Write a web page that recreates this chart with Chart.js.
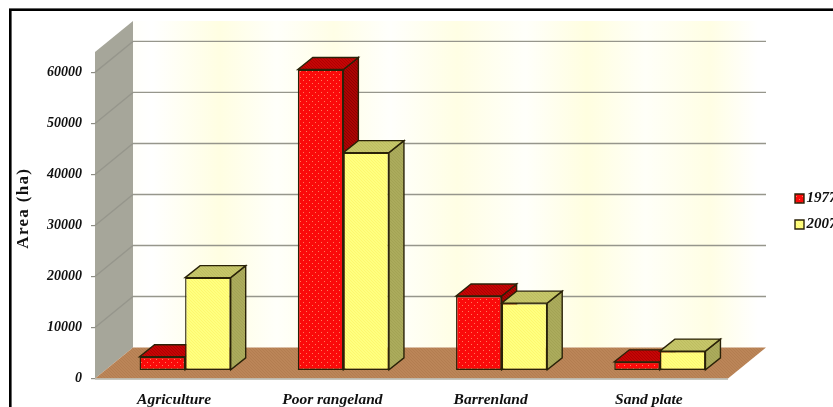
<!DOCTYPE html>
<html>
<head>
<meta charset="utf-8">
<script src="https://cdn.jsdelivr.net/npm/chart.js@4"></script>
<style>
  html, body { margin: 0; padding: 0; background: #fff; overflow: hidden; width: 833px; height: 407px; }
  canvas { display: block; }
</style>
</head>
<body>
<canvas id="c" width="860" height="430"></canvas>
<script>
// Land cover area per class, in hectares
const categories = ['Agriculture', 'Poor rangeland', 'Barrenland', 'Sand plate'];
const years = ['1977', '2007'];
const area1977 = [2700, 59000, 14600, 1700];
const area2007 = [18200, 42700, 13200, 3800];
const yTickValues = [0, 10000, 20000, 30000, 40000, 50000, 60000];
const yAxisTitle = 'Area (ha)';

const SERIF = '"Liberation Serif", "Times New Roman", serif';
const INK = '#2a2208';

// Depth of the box behind the front plane, and of each column
const WALL_DX = 38, WALL_DY = 31;
const BAR_SHIFT_X = 11, BAR_SHIFT_Y = 8;
const BAR_DX = 15, BAR_DY = 12;

function tile(size, base, paint) {
  const t = document.createElement('canvas');
  t.width = t.height = size;
  const g = t.getContext('2d');
  g.fillStyle = base;
  g.fillRect(0, 0, size, size);
  paint(g);
  return g.createPattern(t, 'repeat');
}
const dots = (color) => (g) => {
  g.fillStyle = color;
  g.fillRect(1, 1, 1, 1);
  g.fillRect(4, 4, 1, 1);
};
const hatch = (color) => (g) => {
  g.fillStyle = color;
  g.fillRect(0, 0, 1, 1);
  g.fillRect(1, 1, 1, 1);
  g.fillRect(2, 2, 1, 1);
};
const redFront = tile(6, '#fb0a0a', dots('#ff7a5a'));
const redTop = tile(3, '#c40606', hatch('#b00000'));
const redSide = tile(3, '#ac0404', hatch('#8e0000'));
const yellowFront = tile(3, '#ffff80', hatch('#fdf76e'));
const yellowTop = tile(3, '#c6c66a', hatch('#bdbd60'));
const yellowSide = tile(3, '#abab5c', hatch('#a3a354'));
const floorFill = tile(3, '#bb8558', hatch('#b37d50'));

function polygon(ctx, pts, fill, stroke, width) {
  ctx.beginPath();
  pts.forEach((p, i) => (i ? ctx.lineTo(p[0], p[1]) : ctx.moveTo(p[0], p[1])));
  ctx.closePath();
  ctx.fillStyle = fill;
  ctx.fill();
  if (stroke) {
    ctx.strokeStyle = stroke;
    ctx.lineWidth = width;
    ctx.stroke();
  }
}

// Frame, walls, floor, gridlines carried round the box, and the depth faces of the columns
const boxPlugin = {
  id: 'box',
  beforeDraw(chart) {
    const { ctx, chartArea: a, scales: { y } } = chart;
    const bx = a.left + WALL_DX, bxr = a.right + WALL_DX, by = a.top - WALL_DY, bb = a.bottom - WALL_DY;
    ctx.save();
    ctx.strokeStyle = '#000';
    ctx.lineWidth = 2.6;
    ctx.strokeRect(10.3, 9.7, chart.width, chart.height);

    // Soft vertical bands on the back wall
    const wash = ctx.createLinearGradient(bx, 0, bxr, 0);
    [[0, '#fffffa'], [0.03, '#ffffff'], [0.137, '#fffee2'], [0.227, '#fffffa'], [0.317, '#fffee6'],
     [0.407, '#fffffc'], [0.512, '#fffee4'], [0.62, '#fffffa'], [0.717, '#fffee0'], [0.81, '#fffff8'],
     [0.911, '#fffee4'], [0.987, '#ffffff'], [1, '#ffffff']]
      .forEach(([p, c]) => wash.addColorStop(p, c));
    ctx.fillStyle = wash;
    ctx.fillRect(bx, by, bxr - bx, bb - by);

    polygon(ctx, [[a.left, a.top], [bx, by], [bx, bb], [a.left, a.bottom]], '#a6a69a');
    polygon(ctx, [[a.left, a.bottom], [a.right, a.bottom], [bxr, bb], [bx, bb]], floorFill);

    y.ticks.forEach((t) => {
      if (t.value === 0) return;
      const py = y.getPixelForValue(t.value);
      ctx.beginPath();
      ctx.moveTo(a.left, py);
      ctx.lineTo(bx, py - WALL_DY);
      ctx.lineTo(bxr, py - WALL_DY);
      ctx.strokeStyle = '#96968c';
      ctx.lineWidth = 1.4;
      ctx.stroke();
    });
    ctx.beginPath();
    ctx.moveTo(a.left, a.bottom + 0.5);
    ctx.lineTo(a.right, a.bottom + 0.5);
    ctx.strokeStyle = '#b4b4aa';
    ctx.lineWidth = 1.4;
    ctx.stroke();

    // Axis title, set a little above the middle of the axis
    ctx.translate(24, (a.top + a.bottom) / 2 - 7);
    ctx.rotate(-Math.PI / 2);
    ctx.font = 'bold 17px ' + SERIF;
    ctx.letterSpacing = '1.3px';
    ctx.fillStyle = '#111';
    ctx.textAlign = 'center';
    ctx.textBaseline = 'middle';
    ctx.fillText(y.options.title.text, 0, 0);
    ctx.restore();
  },
  // Columns stand a little behind the front plane of the box. Their top and
  // side faces go down first, 1977 before 2007, and the library then paints
  // the front faces over them.
  beforeDatasetsDraw(chart) {
    const { ctx } = chart;
    ctx.save();
    ctx.translate(BAR_SHIFT_X, -BAR_SHIFT_Y);
    [[0, redTop, redSide], [1, yellowTop, yellowSide]].forEach(([index, top, side]) => {
      chart.getDatasetMeta(index).data.forEach((bar) => {
        const { x, y, base, width } = bar.getProps(['x', 'y', 'base', 'width'], true);
        const l = x - width / 2, r = x + width / 2;
        polygon(ctx, [[r, y], [r + BAR_DX, y - BAR_DY], [r + BAR_DX, base - BAR_DY], [r, base]], side, INK, 1.4);
        polygon(ctx, [[l, y], [l + BAR_DX, y - BAR_DY], [r + BAR_DX, y - BAR_DY], [r, y]], top, INK, 1.4);
      });
    });
  },
  afterDatasetsDraw(chart) {
    chart.ctx.restore();
  }
};

// Legend sits beside the box; its labels are right-aligned to the box edge
// so they hug the colour swatches
const legendPlacement = {
  id: 'legendPlacement',
  afterLayout(chart) {
    const lg = chart.legend;
    lg.left = 784;
    lg.top = 180;
    lg.right = 836.5;
    lg.bottom = chart.height;
  }
};

new Chart(document.getElementById('c'), {
  type: 'bar',
  data: {
    labels: categories,
    datasets: [
      { label: years[0], data: area1977, backgroundColor: redFront, clip: false },
      { label: years[1], data: area2007, backgroundColor: yellowFront, clip: false }
    ]
  },
  plugins: [boxPlugin, legendPlacement],
  options: {
    responsive: false,
    animation: false,
    events: [],
    layout: { padding: { top: 52, right: 132, left: 0, bottom: 0 } },
    datasets: {
      bar: {
        categoryPercentage: 0.576,
        barPercentage: 1,
        borderColor: INK,
        borderWidth: 1.4,
        borderSkipped: false
      }
    },
    scales: {
      x: {
        grid: { display: false },
        border: { display: false },
        ticks: {
          padding: 4,
          color: '#111',
          maxRotation: 0,
          font: { family: SERIF, size: 15.5, weight: 'bold', style: 'italic' }
        },
        afterFit(s) { s.height = 430 - 378.5; }
      },
      y: {
        min: 0,
        max: 64000,
        title: { display: false, text: yAxisTitle },
        border: { display: false },
        grid: { drawOnChartArea: false, tickLength: 4, color: '#8c8c84', lineWidth: 1.2 },
        afterBuildTicks(s) { s.ticks = yTickValues.map((value) => ({ value })); },
        ticks: {
          callback: (v) => String(v),
          padding: 9,
          color: '#111',
          font: { family: SERIF, size: 14, weight: 'bold', style: 'italic' }
        },
        afterFit(s) { s.width = 95; }
      }
    },
    plugins: {
      tooltip: { enabled: false },
      title: { display: false },
      legend: {
        position: 'chartArea',
        align: 'start',
        labels: {
          boxWidth: 9,
          boxHeight: 9,
          padding: 11,
          textAlign: 'right',
          color: '#111',
          font: { family: SERIF, size: 15, weight: 'bold', style: 'italic' }
        }
      }
    }
  }
});
</script>
</body>
</html>
